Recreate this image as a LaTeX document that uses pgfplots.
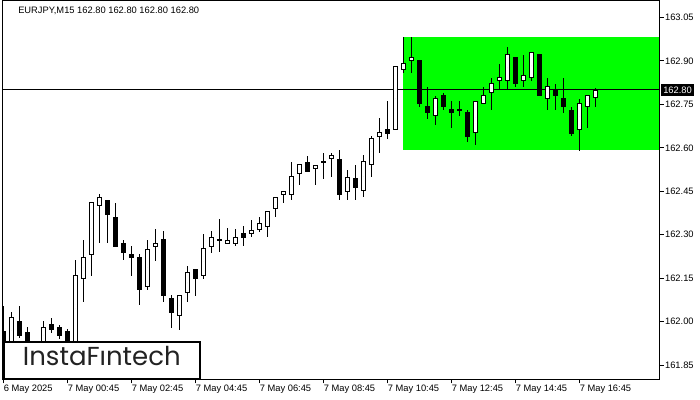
\documentclass[border=0pt]{standalone}
\usepackage{pgfplots}
\pgfplotsset{compat=1.18}
\usepackage{pgfplotstable}
\usepackage{fontspec}
\setmainfont{Liberation Sans}
\newfontfamily\logofont{Poppins}
\definecolor{mtgreen}{RGB}{0,255,0}
\definecolor{logogray}{RGB}{34,34,34}

\pgfplotstableread{
x o h l c
0 161.965 162.054 161.902 161.919
1 161.926 162.033 161.909 162.014
2 162.002 162.054 161.943 161.953
3 161.963 161.981 161.902 161.919
4 161.900 161.935 161.880 161.930
5 161.926 162.002 161.909 161.981
6 161.992 162.014 161.962 161.972
7 161.981 161.988 161.943 161.953
8 161.965 161.974 161.902 161.919
9 161.929 162.213 161.909 162.160
10 162.150 162.283 162.069 162.223
11 162.233 162.412 162.159 162.410
12 162.404 162.441 162.271 162.431
13 162.420 162.422 162.271 162.372
14 162.361 162.410 162.258 162.260
15 162.272 162.283 162.212 162.239
16 162.233 162.261 162.158 162.221
17 162.223 162.234 162.059 162.111
18 162.122 162.283 162.111 162.251
19 162.261 162.320 162.211 162.271
20 162.283 162.314 162.069 162.090
21 162.081 162.091 161.979 162.032
22 162.022 162.093 161.973 162.091
23 162.101 162.193 162.069 162.171
24 162.181 162.182 162.090 162.149
25 162.160 162.304 162.149 162.251
26 162.261 162.314 162.239 162.292
27 162.281 162.352 162.239 162.283
28 162.271 162.321 162.270 162.282
29 162.271 162.321 162.260 162.292
30 162.303 162.331 162.262 162.292
31 162.303 162.352 162.292 162.313
32 162.320 162.362 162.310 162.341
33 162.330 162.383 162.292 162.382
34 162.393 162.432 162.361 162.431
35 162.441 162.452 162.410 162.451
36 162.441 162.553 162.420 162.500
37 162.510 162.543 162.471 162.542
38 162.552 162.573 162.520 162.521
39 162.531 162.543 162.472 162.542
40 162.552 162.583 162.491 162.554
41 162.562 162.583 162.500 162.573
42 162.562 162.592 162.420 162.440
43 162.451 162.522 162.420 162.500
44 162.493 162.542 162.420 162.462
45 162.451 162.574 162.430 162.552
46 162.542 162.643 162.500 162.632
47 162.641 162.702 162.583 162.652
48 162.664 162.761 162.630 162.651
49 162.663 162.882 162.662 162.881
50 162.870 162.982 162.859 162.891
51 162.902 162.982 162.859 162.912
52 162.902 162.903 162.741 162.751
53 162.742 162.812 162.701 162.722
54 162.711 162.781 162.679 162.770
55 162.781 162.791 162.732 162.742
56 162.732 162.761 162.670 162.722
57 162.731 162.761 162.710 162.733
58 162.722 162.732 162.621 162.641
59 162.652 162.761 162.611 162.760
60 162.753 162.812 162.752 162.781
61 162.791 162.843 162.732 162.822
62 162.832 162.892 162.802 162.843
63 162.832 162.951 162.802 162.923
64 162.912 162.914 162.812 162.822
65 162.832 162.923 162.812 162.850
66 162.843 162.931 162.832 162.929
67 162.923 162.924 162.780 162.781
68 162.770 162.843 162.732 162.812
69 162.801 162.822 162.732 162.781
70 162.770 162.843 162.722 162.742
71 162.732 162.742 162.641 162.652
72 162.663 162.770 162.590 162.753
73 162.742 162.782 162.670 162.781
74 162.775 162.806 162.742 162.800
}\candles

\pgfplotsset{candlepart/.style={only marks, mark=*, mark size=0pt, mark options={draw=none, fill=none}, forget plot}}

\begin{document}
\begin{tikzpicture}
\path[use as bounding box] (0pt,0pt) rectangle (525pt,300pt);
\begin{axis}[
  at={(1.5pt,15.375pt)}, anchor=south west,
  scale only axis, width=493.125pt, height=283.875pt,
  xmin=-0.2, xmax=82, ymin=161.80, ymax=163.107,
  axis on top,
  axis line style={line width=0.75pt, black},
  tick style={black, line width=0.75pt},
  tick align=outside, major tick length=3pt,
  xtick pos=left, ytick pos=right, yticklabel pos=right,
  xtick={0,8,16,24,32,40,48,56,64,72},
  xticklabels={6 May 2025,7 May 00:45,7 May 02:45,7 May 04:45,7 May 06:45,7 May 08:45,7 May 10:45,7 May 12:45,7 May 14:45,7 May 16:45},
  ytick={161.85,162.00,162.15,162.30,162.45,162.60,162.75,162.90,163.05},
  yticklabels={161.85,162.00,162.15,162.30,162.45,162.60,162.75,162.90,163.05},
  ticklabel style={font=\fontsize{7pt}{8pt}\selectfont},
  xticklabel style={anchor=north west, xshift=-1pt, inner sep=1pt},
  yticklabel style={anchor=west, inner sep=1pt},
  /pgf/number format/assume math mode=true,
]
% green zone
\addplot[draw=none, fill=mtgreen, forget plot] coordinates {(49.95,162.592) (83,162.592) (83,162.982) (49.95,162.982)} -- cycle;
% price line
\addplot[black, line width=0.75pt, forget plot] coordinates {(-1,162.80) (83,162.80)};
% wicks
\addplot[candlepart,
  error bars/.cd, y dir=both, y explicit, error mark=none,
  error bar style={line width=0.75pt, draw=black}]
  table[x=x, y expr={(\thisrow{h}+\thisrow{l})/2}, y error expr={(\thisrow{h}-\thisrow{l})/2}] {\candles};
% bodies (outline / black fill)
\addplot[candlepart,
  error bars/.cd, y dir=both, y explicit, error mark=none,
  error bar style={line width=3.75pt, draw=black}]
  table[x=x, y expr={(\thisrow{o}+\thisrow{c})/2}, y error expr={abs(\thisrow{c}-\thisrow{o})/2+0.00173}] {\candles};
% bullish bodies: white interior
\addplot[candlepart,
  restrict expr to domain={\thisrow{c}-\thisrow{o}}{0:1},
  error bars/.cd, y dir=both, y explicit, error mark=none,
  error bar style={line width=2.25pt, draw=white}]
  table[x=x, y expr={(\thisrow{o}+\thisrow{c})/2}, y error expr={max((\thisrow{c}-\thisrow{o})/2-0.00173,0)}] {\candles};
\end{axis}
% title
\node[anchor=west, inner sep=0pt, font=\fontsize{7pt}{8pt}\selectfont] at (13.5pt,291.75pt) {EURJPY,M15 162.80 162.80 162.80 162.80};
% current price label
\node[anchor=west, fill=black, text=white, inner xsep=1.5pt, inner ysep=0pt, minimum height=9pt, font=\fontsize{7pt}{8pt}\selectfont] at (495.75pt,232.5pt) {162.80};
% logo
\draw[fill=white, line width=1.5pt] (2.8pt,15.4pt) rectangle (150.2pt,43.7pt);
\node[anchor=base west, inner sep=0pt, text=logogray, font=\logofont\fontsize{19.5pt}{20pt}\selectfont] at (17pt,25.5pt) {InstaFıntech};
\end{tikzpicture}
\end{document}
